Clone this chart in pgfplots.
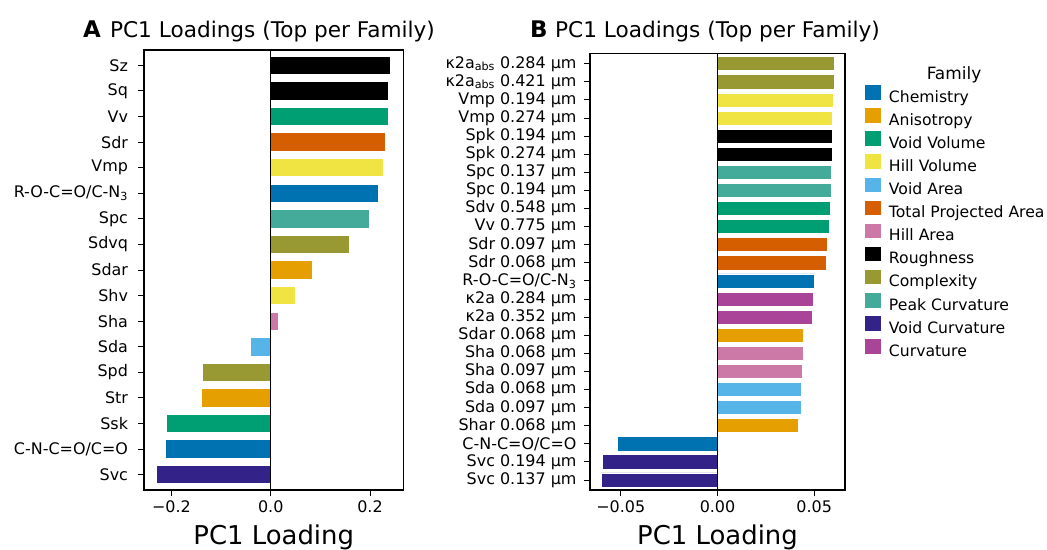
\documentclass[border=0pt]{standalone}
\usepackage{fontspec}
\setmainfont{DejaVu Sans}
\usepackage{pgfplots}
\pgfplotsset{compat=1.18}
\definecolor{chem}{HTML}{0072B2}
\definecolor{aniso}{HTML}{E69F00}
\definecolor{voidvol}{HTML}{009E73}
\definecolor{hillvol}{HTML}{F0E442}
\definecolor{voidarea}{HTML}{56B4E9}
\definecolor{tpa}{HTML}{D55E00}
\definecolor{hillarea}{HTML}{CC79A7}
\definecolor{rough}{HTML}{000000}
\definecolor{complex}{HTML}{999933}
\definecolor{peakcurv}{HTML}{44AA99}
\definecolor{voidcurv}{HTML}{332288}
\definecolor{curv}{HTML}{AA4499}
\pgfplotsset{
  common/.style={
    scale only axis, anchor=south west, y dir=reverse,
    scaled x ticks=false,
    tick align=outside, xtick pos=bottom, ytick pos=left,
    major tick length=6bp, tick style={black, line width=1bp},
    axis line style={black, line width=1.3bp},
    ticklabel style={font=\fontsize{16}{19}\selectfont},
    yticklabel style={xshift=-6.5bp},
    xticklabel style={yshift=-1bp},
  },
  hb/.style={xbar, bar shift=0pt, fill=#1, draw=white, line width=0.8bp, forget plot},
}
\begin{document}
\begin{tikzpicture}
\path[use as bounding box] (0bp,0bp) rectangle (1047bp,550bp);
% ---------------- Panel A ----------------
\begin{axis}[common, name=A, at={(144bp,60bp)}, width=259.3bp, height=440bp,
  xmin=-0.2552, xmax=0.267, ymin=-0.6, ymax=16.6,
  xtick={-0.2,0,0.2}, xticklabels={−0.2,0.0,0.2},
  ytick={0,...,16},
  yticklabels={{Sz},{Sq},{Vv},{Sdr},{Vmp},{R-O-C=O/C-N\textsubscript{3}},{Spc},{Sdvq},{Sdar},{Shv},{Sha},{Sda},{Spd},{Str},{Ssk},{C-N-C=O/C=O},{Svc}},
  every axis plot/.append style={bar width=0.72},
]
\addplot[hb=rough] coordinates {(0.2403,0) (0.2376,1)};
\addplot[hb=voidvol] coordinates {(0.2363,2) (-0.2095,14)};
\addplot[hb=tpa] coordinates {(0.2309,3)};
\addplot[hb=hillvol] coordinates {(0.2275,4) (0.0503,9)};
\addplot[hb=chem] coordinates {(0.2168,5) (-0.2115,15)};
\addplot[hb=peakcurv] coordinates {(0.1986,6)};
\addplot[hb=complex] coordinates {(0.1577,7) (-0.1370,12)};
\addplot[hb=aniso] coordinates {(0.0839,8) (-0.1404,13)};
\addplot[hb=hillarea] coordinates {(0.0161,10)};
\addplot[hb=voidarea] coordinates {(-0.0403,11)};
\addplot[hb=voidcurv] coordinates {(-0.2304,16)};
\draw[black, line width=1bp] (axis cs:0,-0.6) -- (axis cs:0,16.6);
\end{axis}
% ---------------- Panel B ----------------
\begin{axis}[common, name=B, at={(590bp,60bp)}, width=255bp, height=436.7bp,
  xmin=-0.0659, xmax=0.0659, ymin=-0.58, ymax=23.55,
  xtick={-0.05,0,0.05}, xticklabels={−0.05,0.00,0.05},
  ytick={0,...,23},
  yticklabels={{κ2a\textsubscript{abs} 0.284 μm},{κ2a\textsubscript{abs} 0.421 μm},{Vmp 0.194 μm},{Vmp 0.274 μm},{Spk 0.194 μm},{Spk 0.274 μm},{Spc 0.137 μm},{Spc 0.194 μm},{Sdv 0.548 μm},{Vv 0.775 μm},{Sdr 0.097 μm},{Sdr 0.068 μm},{R-O-C=O/C-N\textsubscript{3}},{κ2a 0.284 μm},{κ2a 0.352 μm},{Sdar 0.068 μm},{Sha 0.068 μm},{Sha 0.097 μm},{Sda 0.068 μm},{Sda 0.097 μm},{Shar 0.068 μm},{C-N-C=O/C=O},{Svc 0.194 μm},{Svc 0.137 μm}},
  yticklabel style={xshift=2.5bp},
  every axis plot/.append style={bar width=0.78},
  legend image code/.code={\fill[#1, draw=none] (0bp,-1.5bp) rectangle (16bp,13bp);},
  legend cell align=left,
  legend style={at={(1.0784,0.9271)}, anchor=north west, draw=none, fill=none,
    inner sep=0pt, outer sep=0pt, row sep=3.1bp, column sep=8bp,
    font=\fontsize{15.7}{18}\selectfont,
    nodes={inner sep=0pt, text height=11bp, text depth=3bp}},
]
\addplot[hb=complex] coordinates {(0.0603,0) (0.0603,1)};
\addplot[hb=hillvol] coordinates {(0.0598,2) (0.0595,3)};
\addplot[hb=rough] coordinates {(0.0595,4) (0.0593,5)};
\addplot[hb=peakcurv] coordinates {(0.0591,6) (0.0591,7)};
\addplot[hb=voidvol] coordinates {(0.0583,8) (0.0580,9)};
\addplot[hb=tpa] coordinates {(0.0567,10) (0.0564,11)};
\addplot[hb=chem] coordinates {(0.0502,12) (-0.0515,21)};
\addplot[hb=curv] coordinates {(0.0495,13) (0.0492,14)};
\addplot[hb=aniso] coordinates {(0.0445,15) (0.0417,20)};
\addplot[hb=hillarea] coordinates {(0.0445,16) (0.0440,17)};
\addplot[hb=voidarea] coordinates {(0.0435,18) (0.0435,19)};
\addplot[hb=voidcurv] coordinates {(-0.0595,22) (-0.0602,23)};
\draw[black, line width=1bp] (axis cs:0,-0.58) -- (axis cs:0,23.55);
\addlegendimage{fill=chem}\addlegendentry{Chemistry}
\addlegendimage{fill=aniso}\addlegendentry{Anisotropy}
\addlegendimage{fill=voidvol}\addlegendentry{Void Volume}
\addlegendimage{fill=hillvol}\addlegendentry{Hill Volume}
\addlegendimage{fill=voidarea}\addlegendentry{Void Area}
\addlegendimage{fill=tpa}\addlegendentry{Total Projected Area}
\addlegendimage{fill=hillarea}\addlegendentry{Hill Area}
\addlegendimage{fill=rough}\addlegendentry{Roughness}
\addlegendimage{fill=complex}\addlegendentry{Complexity}
\addlegendimage{fill=peakcurv}\addlegendentry{Peak Curvature}
\addlegendimage{fill=voidcurv}\addlegendentry{Void Curvature}
\addlegendimage{fill=curv}\addlegendentry{Curvature}
\end{axis}
% titles and labels
\node[anchor=base, font=\fontsize{21.7}{25}\selectfont] at (272.5bp,512.7bp) {PC1 Loadings (Top per Family)};
\node[anchor=base west, font=\bfseries\fontsize{23}{26}\selectfont, inner sep=0pt] at (83bp,512.7bp) {A};
\node[anchor=base, font=\fontsize{21.7}{25}\selectfont] at (717.5bp,512.7bp) {PC1 Loadings (Top per Family)};
\node[anchor=base west, font=\bfseries\fontsize{23}{26}\selectfont, inner sep=0pt] at (530bp,512.7bp) {B};
\node[anchor=base, font=\fontsize{26}{30}\selectfont] at (273.7bp,6bp) {PC1 Loading};
\node[anchor=base, font=\fontsize{26}{30}\selectfont] at (717.5bp,6bp) {PC1 Loading};
\node[anchor=base, font=\fontsize{17}{20}\selectfont] at (954bp,470bp) {Family};
\end{tikzpicture}
\end{document}
